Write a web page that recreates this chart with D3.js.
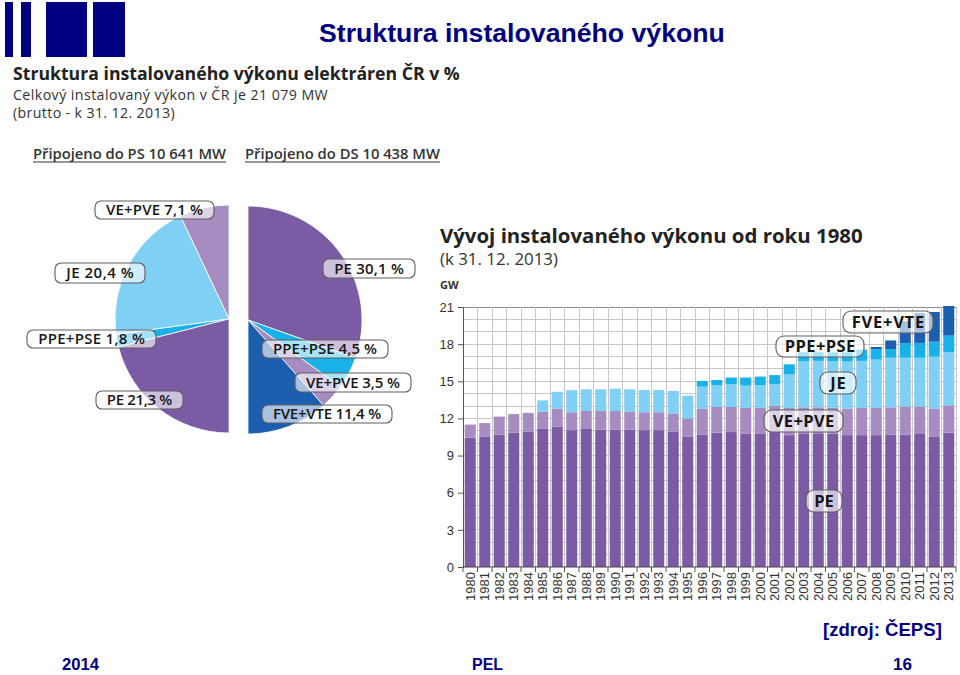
<!DOCTYPE html>
<html><head><meta charset="utf-8">
<script src="https://cdn.jsdelivr.net/npm/d3@7/dist/d3.min.js"></script>
<style>body{margin:0;background:#fff}svg{display:block}</style>
</head><body>
<svg id="c" width="960" height="675"></svg>
<script>
// ---------------- DATA ----------------
const years = ["1980","1981","1982","1983","1984","1985","1986","1987","1988","1989","1990","1991","1992","1993","1994","1995","1996","1997","1998","1999","2000","2001","2002","2003","2004","2005","2006","2007","2008","2009","2010","2011","2012","2013"];
const pe  = [10.45,10.55,10.70,10.85,10.95,11.15,11.35,11.05,11.15,11.10,11.10,11.10,11.05,11.05,10.95,10.55,10.70,10.85,10.90,10.75,10.75,10.95,10.65,10.75,10.80,10.75,10.65,10.65,10.65,10.70,10.70,10.80,10.55,10.85];
const ve  = [1.05,1.07,1.45,1.50,1.50,1.40,1.45,1.45,1.45,1.50,1.50,1.45,1.45,1.45,1.45,1.45,2.10,2.08,2.03,2.10,2.10,2.05,2.20,2.15,2.10,2.10,2.15,2.20,2.20,2.20,2.25,2.15,2.25,2.21];
const je  = [0,0,0,0,0,0.91,1.35,1.78,1.75,1.75,1.80,1.80,1.80,1.80,1.82,1.84,1.77,1.77,1.82,1.80,1.85,1.75,2.70,3.72,3.75,3.77,3.80,3.80,3.90,4.00,3.95,3.95,4.20,4.30];
const ppe = [0,0,0,0,0,0,0,0,0,0,0,0,0,0,0,0,0.46,0.40,0.55,0.65,0.68,0.75,0.82,0.73,0.70,0.73,0.75,0.85,0.85,0.70,1.18,1.20,1.20,1.33];
const fve = [0,0,0,0,0,0,0,0,0,0,0,0,0,0,0,0,0,0,0,0,0,0,0,0,0,0,0,0.05,0.17,0.70,1.77,2.40,2.40,2.39];
const seriesNames = ["PE","VE+PVE","JE","PPE+PSE","FVE+VTE"];
const yTicks = [0,3,6,9,12,15,18,21];
const pieLeftNames  = ["VE+PVE","JE","PPE+PSE","PE"];
const pieLeftValues = [7.1,20.4,1.8,21.3];
const pieRightNames  = ["PE","PPE+PSE","VE+PVE","FVE+VTE"];
const pieRightValues = [30.1,4.5,3.5,11.4];

// ---------------- STYLE ----------------
const colors = {"PE":"#7c5ba5","VE+PVE":"#a68cc0","JE":"#80cff4","PPE+PSE":"#18b2e8","FVE+VTE":"#1c5eb0"};
const NAVY = "#000080";
const HUM = "'Open Sans', 'Noto Sans', sans-serif";
const ARIAL = "'Liberation Sans', Arial, sans-serif";

const svg = d3.select("#c");

function fitText(sel, w) {
  const len = sel.node().getComputedTextLength();
  const fs = parseFloat(sel.attr("font-size"));
  sel.attr("font-size", (fs * w / len).toFixed(2));
  return sel;
}
function fitSpacing(sel, w, centered) {
  const len = sel.node().getComputedTextLength();
  const n = sel.text().length;
  const ls = Math.min(0.9, (w - len) / n);
  sel.attr("letter-spacing", ls.toFixed(2));
  if (centered) sel.attr("x", parseFloat(sel.attr("x")) + ls / 2);
  return sel;
}
function txt(x, y, s, o) {
  const t = svg.append("text").attr("x", x).attr("y", y).text(s)
    .attr("font-family", o.ff || HUM).attr("font-size", o.fs || 14)
    .attr("font-weight", o.fw || 400).attr("fill", o.fill || "#222")
    .attr("text-anchor", o.anchor || "start");
  if (o.w) fitText(t, o.w);
  if (o.ws) fitSpacing(t, o.ws, false);
  return t;
}

// ---------------- HEADER ----------------
const logo = svg.append("g");
[[5,13],[21,31],[46,87],[93,125]].forEach(b => {
  logo.append("rect").attr("x", b[0]).attr("y", 2).attr("width", b[1]-b[0]).attr("height", 55).attr("fill", NAVY);
});
txt(319, 42, "Struktura instalovaného výkonu", {ff: ARIAL, fw: 700, fs: 26, fill: NAVY, w: 406});

txt(13, 80, "Struktura instalovaného výkonu elektráren ČR v %", {fw: 700, fs: 15, fill: "#222", w: 447});
txt(13, 100, "Celkový instalovaný výkon v ČR je 21 079 MW", {fs: 14.2, fill: "#333", ws: 315});
txt(13, 118, "(brutto - k 31. 12. 2013)", {fs: 14.2, fill: "#333", ws: 162});

[[33, "Připojeno do PS 10 641 MW", 193], [245, "Připojeno do DS 10 438 MW", 195]].forEach(h => {
  txt(h[0], 159, h[1], {fw: 600, fs: 13, fill: "#333", w: h[2]});
  svg.append("line").attr("x1", h[0]).attr("x2", h[0] + h[2]).attr("y1", 162).attr("y2", 162)
    .attr("stroke", "#333").attr("stroke-width", 1);
});

// ---------------- PIES ----------------
const R = 114;
const arc = d3.arc().innerRadius(0).outerRadius(R);
function halfPie(cx, cy, names, values, endAngle) {
  const data = names.map((n, i) => ({name: n, value: values[i]}));
  const arcs = d3.pie().sort(null).value(d => d.value).startAngle(0).endAngle(endAngle)(data);
  const g = svg.append("g").attr("transform", `translate(${cx},${cy})`);
  g.selectAll("path").data(arcs).join("path")
    .attr("d", arc).attr("fill", d => colors[d.data.name])
    .attr("stroke", "#ffffff").attr("stroke-width", 0.8).attr("stroke-linejoin", "round");
  return data;
}
const leftData = halfPie(229, 319, pieLeftNames, pieLeftValues, -Math.PI);
const rightData = halfPie(248, 320, pieRightNames, pieRightValues, Math.PI);

const fmt = v => d3.format(".1f")(v).replace(".", ",") + " %";
function labelBox(b, s, o) {
  const g = svg.append("g");
  g.append("rect").attr("x", b[0]).attr("y", b[1]).attr("width", b[2]-b[0]).attr("height", b[3]-b[1])
    .attr("rx", o.rx).attr("ry", o.rx).attr("fill", "#ffffff").attr("fill-opacity", 0.62)
    .attr("stroke", "#5e5e5e").attr("stroke-width", 1.1);
  const t = g.append("text").attr("x", (b[0]+b[2])/2).attr("y", (b[1]+b[3])/2).attr("dy", "0.36em")
    .attr("text-anchor", "middle").attr("font-family", HUM).attr("font-weight", o.fw)
    .attr("font-size", o.fs).attr("fill", "#161616").text(s);
  fitSpacing(t, (b[2]-b[0]) - o.pad, true);
}
const leftBoxes  = {"VE+PVE":[95,201,214,219], "JE":[55,263,145,283], "PPE+PSE":[27,330,156,348], "PE":[96,391,183,409]};
const rightBoxes = {"PE":[323,259,415,278], "PPE+PSE":[262,340,388,358], "VE+PVE":[295,373,411,392], "FVE+VTE":[262,405,392,423]};
leftData.forEach(d => labelBox(leftBoxes[d.name], d.name + " " + fmt(d.value), {rx: 6, fw: 600, fs: 15, pad: 22}));
rightData.forEach(d => labelBox(rightBoxes[d.name], d.name + " " + fmt(d.value), {rx: 6, fw: 600, fs: 15, pad: 22}));

// ---------------- BAR CHART ----------------
txt(440, 243, "Vývoj instalovaného výkonu od roku 1980", {fw: 700, fs: 19, fill: "#222", w: 423});
txt(440, 265, "(k 31. 12. 2013)", {fs: 16, fill: "#333", w: 118});
txt(440, 289, "GW", {fw: 700, fs: 11, fill: "#333"});

const x = d3.scaleBand().domain(years).range([463, 956]).paddingInner(0.24).paddingOuter(0.12);
const y = d3.scaleLinear().domain([0, 21]).range([567, 307]);
const gap = x.step() - x.bandwidth();
const bounds = years.map(d => x(d) - gap / 2).concat([x(years[years.length-1]) + x.bandwidth() + gap / 2]);

const grid = svg.append("g");
grid.selectAll("line.h").data(d3.range(1, 22)).join("line").attr("class", "h")
  .attr("x1", 463).attr("x2", bounds[bounds.length-1]).attr("y1", d => y(d)).attr("y2", d => y(d))
  .attr("stroke", d => d === 21 ? "#8a8a8a" : "#c6c6c6").attr("stroke-width", 1).attr("shape-rendering", "crispEdges");
grid.selectAll("line.v").data(bounds.slice(1)).join("line").attr("class", "v")
  .attr("x1", d => d).attr("x2", d => d).attr("y1", y(21)).attr("y2", y(0))
  .attr("stroke", "#c6c6c6").attr("stroke-width", 1).attr("shape-rendering", "crispEdges");

const table = years.map((yr, i) => ({year: yr, "PE": pe[i], "VE+PVE": ve[i], "JE": je[i], "PPE+PSE": ppe[i], "FVE+VTE": fve[i]}));
const stacked = d3.stack().keys(seriesNames)(table);
svg.append("g").selectAll("g").data(stacked).join("g").attr("fill", s => colors[s.key])
  .selectAll("rect").data(s => s.filter(p => p[1] - p[0] > 0)).join("rect")
  .attr("x", p => x(p.data.year)).attr("width", x.bandwidth())
  .attr("y", p => y(p[1])).attr("height", p => y(p[0]) - y(p[1]));

// axes
const yAxis = svg.append("g").attr("transform", "translate(463,0)")
  .call(d3.axisLeft(y).tickValues(yTicks).tickSize(5).tickPadding(4));
yAxis.select(".domain").attr("stroke", "#555");
yAxis.selectAll(".tick line").attr("stroke", "#555");
yAxis.selectAll("text").attr("font-family", ARIAL).attr("font-size", 13).attr("fill", "#333");

const xAxis = svg.append("g").attr("transform", `translate(0,${y(0)})`)
  .call(d3.axisBottom(x).tickSize(0).tickPadding(0));
xAxis.select(".domain").attr("stroke", "#444").attr("d", `M463,0H${bounds[bounds.length-1]}`);
xAxis.selectAll(".tick text").attr("font-family", ARIAL).attr("font-size", 13).attr("fill", "#333")
  .attr("text-anchor", "end").attr("transform", "translate(0,5) rotate(-90)").attr("dy", "0.36em").attr("y", 0).attr("x", 0);
xAxis.selectAll("line.b").data(bounds).join("line").attr("class", "b")
  .attr("x1", d => d).attr("x2", d => d).attr("y1", 0).attr("y2", 5).attr("stroke", "#555");

// series labels on bar chart
const barBoxes = {"FVE+VTE":[843,311,933,333], "PPE+PSE":[776,336,864,357], "JE":[820,372,856,394], "VE+PVE":[764,410,843,432], "PE":[806,490,842,512]};
seriesNames.forEach(n => labelBox(barBoxes[n], n, {rx: 8, fw: 700, fs: 16.5, pad: 17}));

// ---------------- FOOTER ----------------
txt(823, 636, "[zdroj: ČEPS]", {ff: ARIAL, fw: 700, fs: 19, fill: NAVY, w: 119});
txt(62, 670, "2014", {ff: ARIAL, fw: 700, fs: 16, fill: NAVY, w: 37});
txt(472, 670, "PEL", {ff: ARIAL, fw: 700, fs: 16, fill: NAVY, w: 31});
txt(893, 670, "16", {ff: ARIAL, fw: 700, fs: 16, fill: NAVY, w: 19});
</script>
</body></html>
